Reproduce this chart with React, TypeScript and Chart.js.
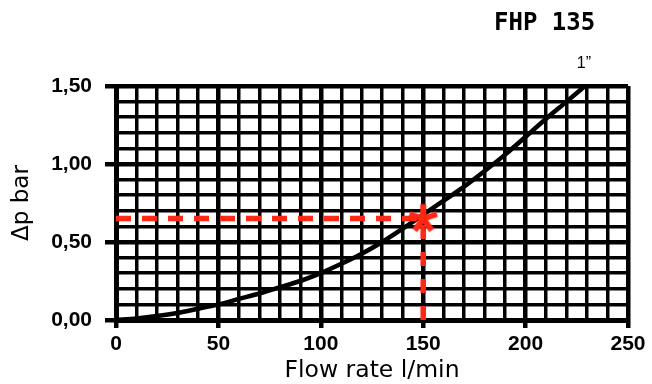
import React, { useEffect, useRef } from 'react';
import { Chart, registerables } from 'chart.js';

Chart.register(...registerables);

// ---- data ----
const flowRate = [0, 10, 20, 30, 40, 50, 60, 70, 80, 90, 100, 110, 120, 130, 140, 150, 160, 170, 180, 190, 200, 210, 220, 229];
const pressureDrop = [0, 0.01, 0.025, 0.045, 0.072, 0.1, 0.135, 0.17, 0.21, 0.25, 0.3, 0.36, 0.425, 0.5, 0.585, 0.675, 0.765, 0.855, 0.955, 1.06, 1.175, 1.29, 1.4, 1.5];
const operatingFlow = [150];
const operatingDrop = [0.65];
const xTickLabels = ['0', '50', '100', '150', '200', '250'];
const yTickLabels = ['0,00', '0,50', '1,00', '1,50'];
const chartTitle = 'FHP 135';
const curveLabel = '1\u201D';
const xAxisTitle = 'Flow rate l/min';
const yAxisTitle = '\u0394p bar';

const RED = '#ff2814';

function makeAsterisk(): HTMLCanvasElement {
  const c = document.createElement('canvas');
  c.width = 36;
  c.height = 36;
  const g = c.getContext('2d')!;
  g.strokeStyle = RED;
  g.lineWidth = 6;
  g.lineCap = 'butt';
  const cx = 18, cy = 18, len = 14.5;
  for (let i = 0; i < 5; i++) {
    const a = (-90 + i * 72) * Math.PI / 180;
    g.beginPath();
    g.moveTo(cx, cy);
    g.lineTo(cx + Math.cos(a) * len, cy + Math.sin(a) * len);
    g.stroke();
  }
  return c;
}

const textPlugin = {
  id: 'extraText',
  afterDraw(chart: any) {
    const { ctx, chartArea } = chart;
    ctx.save();
    ctx.fillStyle = '#000';
    ctx.textBaseline = 'alphabetic';
    ctx.font = 'bold 24px "DejaVu Sans Mono"';
    ctx.textAlign = 'left';
    ctx.fillText(chartTitle, chartArea.right - 134, 30);
    ctx.font = '16px "Liberation Sans"';
    ctx.textAlign = 'right';
    ctx.fillText(curveLabel, chartArea.right - 37, 68);
    ctx.restore();
  },
};

const isMajorX = (v: number) => Math.round(v) % 50 === 0;
const isMajorY = (v: number) => Math.round(v * 10) % 5 === 0;

export default function App() {
  const ref = useRef<HTMLCanvasElement | null>(null);

  useEffect(() => {
    if (!ref.current) return;
    const asterisk = makeAsterisk();
    const curve = flowRate.map((x, i) => ({ x, y: pressureDrop[i] }));
    const hLine = [
      { x: 0, y: operatingDrop[0] },
      { x: operatingFlow[0], y: operatingDrop[0] },
    ];
    const vLine = [
      { x: operatingFlow[0], y: 0 },
      { x: operatingFlow[0], y: operatingDrop[0] },
    ];
    const chart = new Chart(ref.current, {
      type: 'line',
      data: {
        datasets: [
          {
            data: operatingFlow.map((x, i) => ({ x, y: operatingDrop[i] })),
            showLine: false,
            pointStyle: asterisk as any,
            pointRadius: 18,
            order: 0,
          },
          {
            data: hLine,
            borderColor: RED,
            borderWidth: 5.5,
            borderDash: [15, 11],
            pointRadius: 0,
            order: 1,
          },
          {
            data: vLine,
            borderColor: RED,
            borderWidth: 5.5,
            borderDash: [14, 13],
            pointRadius: 0,
            order: 1,
          },
          {
            data: curve,
            borderColor: '#000',
            borderWidth: 4.5,
            pointRadius: 0,
            cubicInterpolationMode: 'monotone',
            order: 2,
          },
        ],
      },
      options: {
        responsive: false,
        animation: false,
        devicePixelRatio: 1,
        layout: { padding: { left: 0, right: 24, top: 86, bottom: 0 } },
        plugins: {
          legend: { display: false },
          tooltip: { enabled: false },
        },
        scales: {
          x: {
            type: 'linear',
            min: 0,
            max: 250,
            afterFit: (s: any) => { s.height = 64; },
            border: { display: true, color: '#000', width: 5 },
            grid: {
              color: '#000',
              lineWidth: (c: any) => (isMajorX(c.tick.value) ? 4.5 : 3.5),
              tickLength: 8,
              tickWidth: (c: any) => (isMajorX(c.tick.value) ? 4.5 : 0),
              tickColor: (c: any) => (isMajorX(c.tick.value) ? '#000' : 'rgba(0,0,0,0)'),
            },
            ticks: {
              stepSize: 10,
              autoSkip: false,
              maxRotation: 0,
              padding: 6,
              color: '#000',
              font: { family: '"Liberation Sans"', weight: 'bold', size: 21, lineHeight: 1 },
              callback: (v: any) => (isMajorX(Number(v)) ? xTickLabels[Math.round(Number(v) / 50)] : ''),
            },
            title: {
              display: true,
              text: xAxisTitle,
              color: '#000',
              font: { family: '"DejaVu Sans"', size: 23.5, lineHeight: 1 },
              padding: { top: 0, bottom: 1 },
            },
          },
          y: {
            type: 'linear',
            min: 0,
            max: 1.5,
            afterFit: (s: any) => { s.width = 116; },
            border: { display: true, color: '#000', width: 5 },
            grid: {
              color: '#000',
              lineWidth: (c: any) => (isMajorY(c.tick.value) ? 4.5 : 3.5),
              tickLength: 11,
              tickWidth: (c: any) => (isMajorY(c.tick.value) ? 4.5 : 0),
              tickColor: (c: any) => (isMajorY(c.tick.value) ? '#000' : 'rgba(0,0,0,0)'),
            },
            ticks: {
              stepSize: 0.1,
              autoSkip: false,
              padding: 13,
              color: '#000',
              font: { family: '"Liberation Sans"', weight: 'bold', size: 21, lineHeight: 1 },
              callback: (v: any) => (isMajorY(Number(v)) ? yTickLabels[Math.round(Number(v) * 2)] : ''),
            },
            title: {
              display: true,
              text: yAxisTitle,
              color: '#000',
              font: { family: '"DejaVu Sans"', size: 23, lineHeight: 1 },
              padding: { top: 11, bottom: 0 },
            },
          },
        },
      },
      plugins: [textPlugin],
    } as any);
    return () => chart.destroy();
  }, []);

  return (
    <div style={{ position: 'fixed', left: 0, top: 0, width: 652, height: 384, background: '#fff' }}>
      <canvas ref={ref} width={652} height={384} style={{ display: 'block' }} />
    </div>
  );
}
